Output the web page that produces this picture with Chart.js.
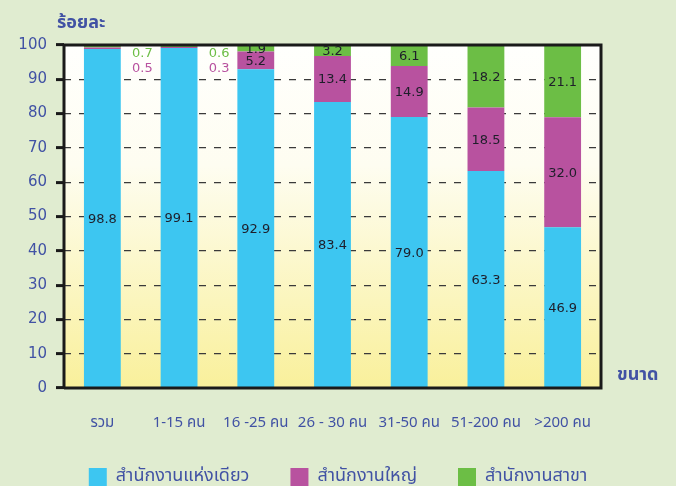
<!DOCTYPE html>
<html>
<head>
<meta charset="utf-8">
<script src="https://cdn.jsdelivr.net/npm/chart.js@4"></script>
<style>
html, body { margin: 0; padding: 0; background: #e0ecd0; }
#wrap { width: 676px; height: 486px; overflow: hidden; }
canvas { display: block; }
</style>
</head>
<body>
<div id="wrap"><canvas id="chart" width="676" height="496"></canvas></div>
<script>
const categories = ["รวม", "1-15 คน", "16 -25 คน", "26 - 30 คน", "31-50 คน", "51-200 คน", ">200 คน"];
const seriesNames = ["สำนักงานแห่งเดียว", "สำนักงานใหญ่", "สำนักงานสาขา"];
const singleOffice = [98.8, 99.1, 92.9, 83.4, 79.0, 63.3, 46.9];
const headOffice = [0.5, 0.3, 5.2, 13.4, 14.9, 18.5, 32.0];
const branchOffice = [0.7, 0.6, 1.9, 3.2, 6.1, 18.2, 21.1];
const yTicks = [0, 10, 20, 30, 40, 50, 60, 70, 80, 90, 100];

const colors = ["#3dc6f1", "#b8529f", "#6cbe45"];
const textBlue = "#4152a4";
const thaiFont = "Tahoma, 'Noto Sans Thai', 'Noto Sans', 'DejaVu Sans', sans-serif";
const numFont = "'DejaVu Sans', Verdana, sans-serif";

// plot background: white at the top fading to pale yellow
const plotBg = {
    id: "plotBg",
    beforeDraw(chart) {
        const { ctx, chartArea: a } = chart;
        const g = ctx.createLinearGradient(0, a.top, 0, a.bottom);
        g.addColorStop(0, "#fffffd");
        g.addColorStop(0.35, "#fefdf1");
        g.addColorStop(1, "#f9f09b");
        ctx.save();
        ctx.fillStyle = g;
        ctx.fillRect(a.left, a.top, a.right - a.left, a.bottom - a.top);
        ctx.restore();
    }
};

// frame around the plot + extra captions
const frame = {
    id: "frame",
    afterDatasetsDraw(chart) {
        const { ctx, chartArea: a } = chart;
        ctx.save();
        ctx.strokeStyle = "#1a1a1a";
        ctx.lineWidth = 3;
        ctx.beginPath();
        ctx.moveTo(a.left, a.bottom);
        ctx.lineTo(a.left, a.top);
        ctx.lineTo(a.right, a.top);
        ctx.lineTo(a.right, a.bottom);
        ctx.lineTo(a.left, a.bottom);
        ctx.stroke();

        ctx.fillStyle = textBlue;
        ctx.font = "bold 18px " + thaiFont;
        ctx.textBaseline = "alphabetic";
        ctx.textAlign = "left";
        ctx.fillText("ร้อยละ", 57, 28);
        ctx.fillText("ขนาด", 617, 380);
        ctx.restore();
    }
};

// value labels: inside the segments, small ones beside the bar
const valueLabels = {
    id: "valueLabels",
    afterDatasetsDraw(chart) {
        const { ctx } = chart;
        const top = chart.scales.y.getPixelForValue(100);
        ctx.save();
        ctx.font = "13px " + numFont;
        ctx.textAlign = "center";
        ctx.textBaseline = "middle";
        chart.data.datasets.forEach((ds, di) => {
            chart.getDatasetMeta(di).data.forEach((bar, i) => {
                const v = ds.data[i];
                if (v >= 1.5) {
                    ctx.fillStyle = "#1e1e2a";
                    ctx.fillText(v.toFixed(1), bar.x, (bar.y + bar.base) / 2 + 1);
                } else {
                    ctx.fillStyle = ds.backgroundColor;
                    ctx.fillText(v.toFixed(1), bar.x + 40, top + (di === 2 ? 9 : 24));
                }
            });
        });
        ctx.restore();
    }
};

new Chart(document.getElementById("chart"), {
    type: "bar",
    data: {
        labels: categories,
        datasets: [
            { label: seriesNames[0], data: singleOffice, backgroundColor: colors[0] },
            { label: seriesNames[1], data: headOffice, backgroundColor: colors[1] },
            { label: seriesNames[2], data: branchOffice, backgroundColor: colors[2] }
        ]
    },
    options: {
        responsive: false,
        animation: false,
        layout: { padding: { left: 0, right: 0, top: 45, bottom: 0 } },
        datasets: { bar: { categoryPercentage: 1, barPercentage: 0.48 } },
        plugins: {
            legend: {
                position: "bottom",
                labels: {
                    boxWidth: 18, boxHeight: 18, padding: 41,
                    color: textBlue,
                    font: { family: thaiFont, size: 18 }
                }
            },
            tooltip: { enabled: false }
        },
        scales: {
            x: {
                stacked: true,
                grid: { display: false },
                border: { display: false },
                ticks: { color: textBlue, font: { family: thaiFont, size: 15 }, padding: 19 },
                afterFit: s => { s.height = 39; }
            },
            y: {
                stacked: true,
                min: 0, max: 100,
                afterBuildTicks: s => { s.ticks = yTicks.map(v => ({ value: v })); },
                afterFit: s => { s.width = 64; },
                border: { display: false, dash: [7, 8] },
                grid: {
                    color: "#3a3a3a", lineWidth: 1.2,
                    tickLength: 8, tickColor: "#1a1a1a", tickWidth: 3, tickBorderDash: []
                },
                ticks: { color: textBlue, font: { family: numFont, size: 15 }, padding: 9 }
            },
            // empty right-hand axis that only reserves room for the "ขนาด" caption
            yRight: {
                position: "right",
                grid: { display: false },
                border: { display: false },
                ticks: { display: false },
                afterFit: s => { s.width = 75; }
            }
        }
    },
    plugins: [plotBg, frame, valueLabels]
});
</script>
</body>
</html>
